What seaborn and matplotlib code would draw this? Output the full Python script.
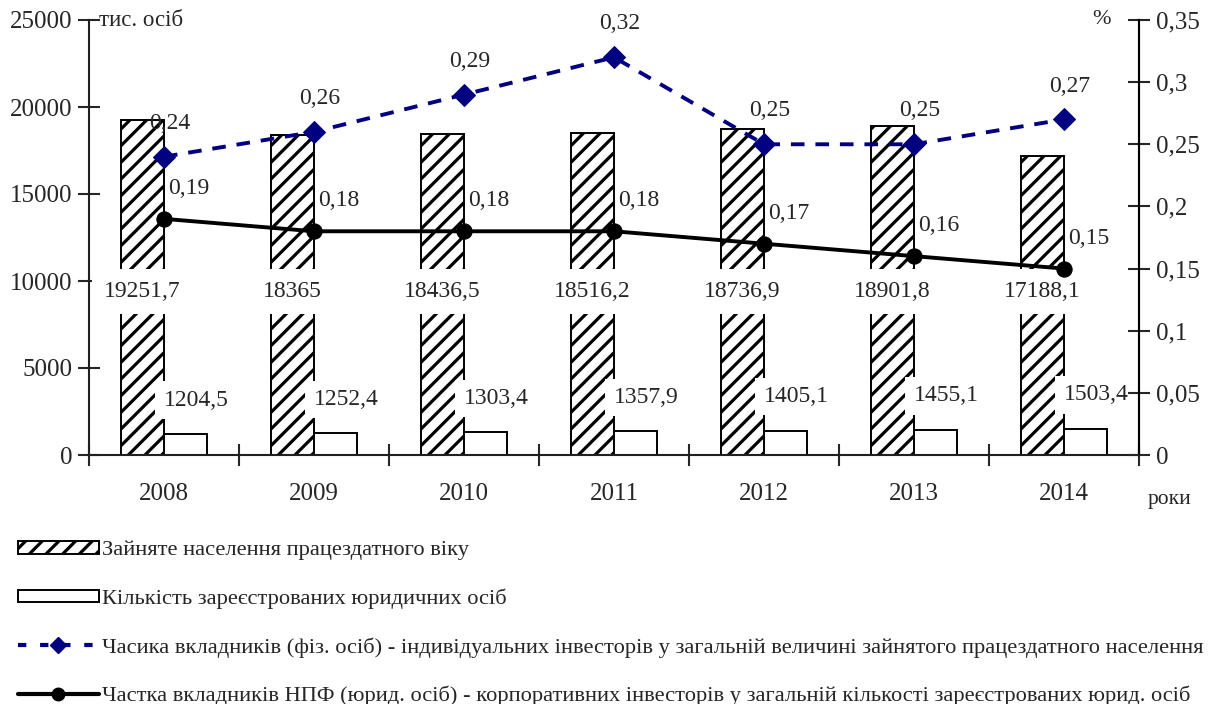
import numpy as np
import pandas as pd
import matplotlib
matplotlib.use("Agg")
import matplotlib.pyplot as plt
from matplotlib.patches import Patch
from matplotlib.lines import Line2D
import seaborn as sns

# data
years = ["2008", "2009", "2010", "2011", "2012", "2013", "2014"]
employed = [19251.7, 18365, 18436.5, 18516.2, 18736.9, 18901.8, 17188.1]
legal_entities = [1204.5, 1252.4, 1303.4, 1357.9, 1405.1, 1455.1, 1503.4]
indiv_share = [0.24, 0.26, 0.29, 0.32, 0.25, 0.25, 0.27]
corp_share = [0.19, 0.18, 0.18, 0.18, 0.17, 0.16, 0.15]

series_names = [
    "Зайняте населення працездатного віку",
    "Кількість зареєстрованих юридичних осіб",
    "Часика вкладників (фіз. осіб) - індивідуальних інвесторів у загальній величині зайнятого працездатного населення",
    "Частка вкладників НПФ (юрид. осіб) - корпоративних інвесторів у загальній кількості зареєстрованих юрид. осіб",
]

NAVY = "#000080"


def fmt(v):
    return f"{v:g}".replace(".", ",")


sns.set_theme(style="ticks")
plt.rcParams["font.family"] = ["Liberation Serif", "DejaVu Serif"]
plt.rcParams["hatch.linewidth"] = 2.3
plt.rcParams["hatch.color"] = "black"

fig = plt.figure(figsize=(12.09, 7.04), dpi=100)
ax = fig.add_axes([89 / 1209, 1 - 455 / 704, (1139 - 89) / 1209, 435 / 704])

bars = pd.DataFrame({
    "year": years * 2,
    "value": employed + legal_entities,
    "series": [series_names[0]] * len(years) + [series_names[1]] * len(years),
})
sns.barplot(data=bars, x="year", y="value", hue="series", palette=["white", "white"],
            edgecolor="black", linewidth=1.4, width=0.575, legend=False, ax=ax,
            saturation=1)
for p in ax.containers[0]:
    p.set_hatch("//")

# value labels on bars
for i, (e, l) in enumerate(zip(employed, legal_entities)):
    bx = ax.containers[0][i]
    cx = bx.get_x() + bx.get_width() / 2
    ax.text(cx, 9400, fmt(e), ha="center", va="center", fontsize=17, zorder=5,
            bbox=dict(boxstyle="square,pad=0.5", fc="white", ec="none"))
    sx = ax.containers[1][i]
    ax.text(sx.get_x() + sx.get_width() / 2 + 0.07, l + 1950, fmt(l), ha="center",
            va="center", fontsize=17, zorder=5,
            bbox=dict(boxstyle="square,pad=0.35", fc="white", ec="none"))

ax.set_ylim(0, 25000)
ax.set_xlim(-0.5, 6.5)
ax.set_yticks(np.arange(0, 25001, 5000))
ax.set_xticks(np.arange(-0.5, 7, 1))
ax.set_xticklabels([])
ax.set_xticks(np.arange(len(years)), minor=True)
ax.set_xticklabels(years, minor=True)
ax.tick_params(axis="x", which="minor", length=0, pad=20, labelsize=18)
ax.tick_params(axis="x", which="major", direction="inout", length=16, width=1.5)
ax.tick_params(axis="y", direction="inout", length=16, width=1.5, labelsize=18, pad=4)
ax.set_xlabel("")
ax.set_ylabel("")
for s in ["left", "bottom", "right"]:
    ax.spines[s].set_linewidth(1.5)
    ax.spines[s].set_color("black")
ax.spines["top"].set_visible(False)

# shares on the right axis
ax2 = ax.twinx()
pos = np.arange(len(years))
sns.lineplot(x=pos, y=indiv_share, ax=ax2, color=NAVY, marker="D", markersize=11,
             markeredgecolor=NAVY, linewidth=2.8, zorder=6)
sns.lineplot(x=pos, y=corp_share, ax=ax2, color="black", marker="o", markersize=11,
             markeredgecolor="black", linewidth=2.8, zorder=6)
ax2.lines[0].set_dashes((3.5, 2.8))

for x, v in zip(pos, indiv_share):
    ax2.annotate(fmt(v), (x, v), xytext=(4, 24), textcoords="offset points",
                 ha="center", va="center", fontsize=17)
for x, v in zip(pos, corp_share):
    ax2.annotate(fmt(v), (x, v), xytext=(18, 22), textcoords="offset points",
                 ha="center", va="center", fontsize=17)

ax2.set_ylim(0, 0.35)
ax2.set_xlim(-0.5, 6.5)
ax2.set_yticks(np.arange(0, 0.351, 0.05))
ax2.set_yticklabels(["0"] + [fmt(round(t, 2)) for t in np.arange(0.05, 0.351, 0.05)])
ax2.tick_params(axis="y", direction="inout", length=16, width=1.5, labelsize=18, pad=4)
ax2.spines["top"].set_visible(False)
ax2.spines["right"].set_linewidth(1.5)
ax2.spines["right"].set_color("black")
ax2.set_ylabel("")

ax.annotate("тис. осіб", (0, 1), xycoords="axes fraction", xytext=(7, 0),
            textcoords="offset points", ha="left", va="center", fontsize=16.5)
ax2.annotate("%", (1, 1), xycoords="axes fraction", xytext=(-20, 0),
             textcoords="offset points", ha="right", va="center", fontsize=16)
ax2.annotate("роки", (1, 0), xycoords="axes fraction", xytext=(6, -32),
             textcoords="offset points", ha="left", va="center", fontsize=15.5)

handles = [
    Patch(facecolor="white", edgecolor="black", hatch="//", linewidth=1.4),
    Patch(facecolor="white", edgecolor="black", linewidth=1.4),
    Line2D([], [], color=NAVY, marker="D", markersize=8, linewidth=3, dashes=(2, 3.3)),
    Line2D([], [], color="black", marker="o", markersize=9, linewidth=3),
]
fig.legend(handles, series_names, loc="upper left", bbox_to_anchor=(0.011, 0.238),
           frameon=False, fontsize=16.2, handlelength=3.6, handleheight=0.5,
           handletextpad=0.15, labelspacing=1.25, numpoints=1, borderaxespad=0,
           borderpad=0.2)

fig.savefig("out.png", dpi=100)
